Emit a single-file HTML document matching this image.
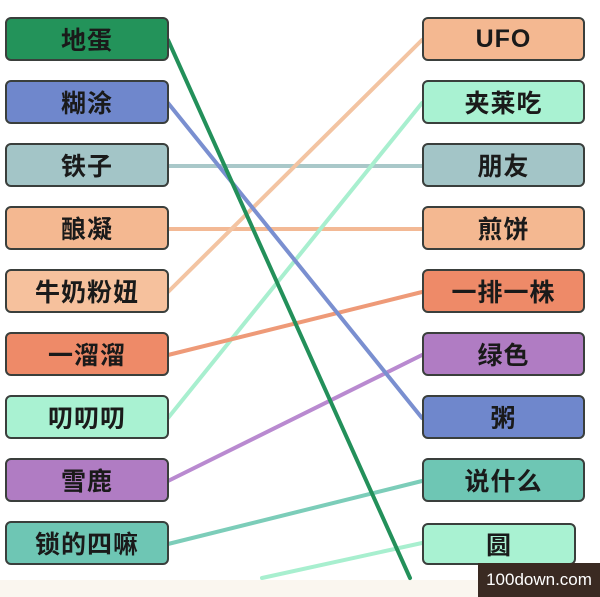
<!DOCTYPE html>
<html><head><meta charset="utf-8"><style>
body{margin:0;width:600px;height:597px;background:#fff;overflow:hidden;position:relative;font-family:"Liberation Sans","Noto Sans CJK SC",sans-serif}
.b{position:absolute;height:44px;border:2px solid #3a3f3c;border-radius:6px;box-sizing:border-box;display:flex;align-items:center;justify-content:center;font-size:25px;font-weight:bold;color:#1a1a1a;letter-spacing:1px}
.l{left:5px;width:164px}.r{left:422px;width:163px}
svg{position:absolute;left:0;top:0}
#wm{position:absolute;left:478px;top:563px;width:122px;height:34px;background:#3a2a22;color:#fff;font-size:17px;display:flex;align-items:center;justify-content:center}
#bot{position:absolute;left:0;top:580px;width:600px;height:17px;background:#faf6ef}
</style></head><body>
<div id="bot"></div>
<svg width="600" height="597">
<g stroke-width="4" fill="none" stroke-linecap="round">
<line x1="168" y1="166" x2="422" y2="166" stroke="#a9c8c9"/>
<line x1="168" y1="229" x2="422" y2="229" stroke="#f3b995"/>
<line x1="168" y1="292" x2="422" y2="40" stroke="#f3c4a2"/>
<line x1="168" y1="418" x2="422" y2="103" stroke="#a8efcf"/>
<line x1="168" y1="355" x2="422" y2="292" stroke="#ee9a78"/>
<line x1="168" y1="481" x2="422" y2="355" stroke="#b98ad0"/>
<line x1="168" y1="544" x2="422" y2="481" stroke="#7ccdb9"/>
<line x1="422" y1="543" x2="262" y2="578" stroke="#a8efcf"/>
<line x1="168" y1="103" x2="422" y2="418" stroke="#7a8fd0"/>
<line x1="168" y1="40" x2="410" y2="578" stroke="#23905a"/>
</g></svg>
<div class="b l" style="top:17px;background:#23935a">地蛋</div>
<div class="b l" style="top:80px;background:#6f87cc">糊涂</div>
<div class="b l" style="top:143px;background:#a3c5c7">铁子</div>
<div class="b l" style="top:206px;background:#f4b891">酿凝</div>
<div class="b l" style="top:269px;background:#f6c19d">牛奶粉妞</div>
<div class="b l" style="top:332px;background:#ee8a68">一溜溜</div>
<div class="b l" style="top:395px;background:#a9f2d2">叨叨叨</div>
<div class="b l" style="top:458px;background:#b07cc3">雪鹿</div>
<div class="b l" style="top:521px;background:#6ec6b4">锁的四嘛</div>
<div class="b r" style="top:17px;background:#f4b891">UFO</div>
<div class="b r" style="top:80px;background:#a9f2d2">夹莱吃</div>
<div class="b r" style="top:143px;background:#a3c5c7">朋友</div>
<div class="b r" style="top:206px;background:#f4b891">煎饼</div>
<div class="b r" style="top:269px;background:#ee8a68">一排一株</div>
<div class="b r" style="top:332px;background:#b07cc3">绿色</div>
<div class="b r" style="top:395px;background:#6f87cc">粥</div>
<div class="b r" style="top:458px;background:#6ec6b4">说什么</div>
<div class="b r" style="top:523px;width:154px;height:42px;background:#a9f2d2">圆</div>
<div id="wm">100down.com</div>
</body></html>
